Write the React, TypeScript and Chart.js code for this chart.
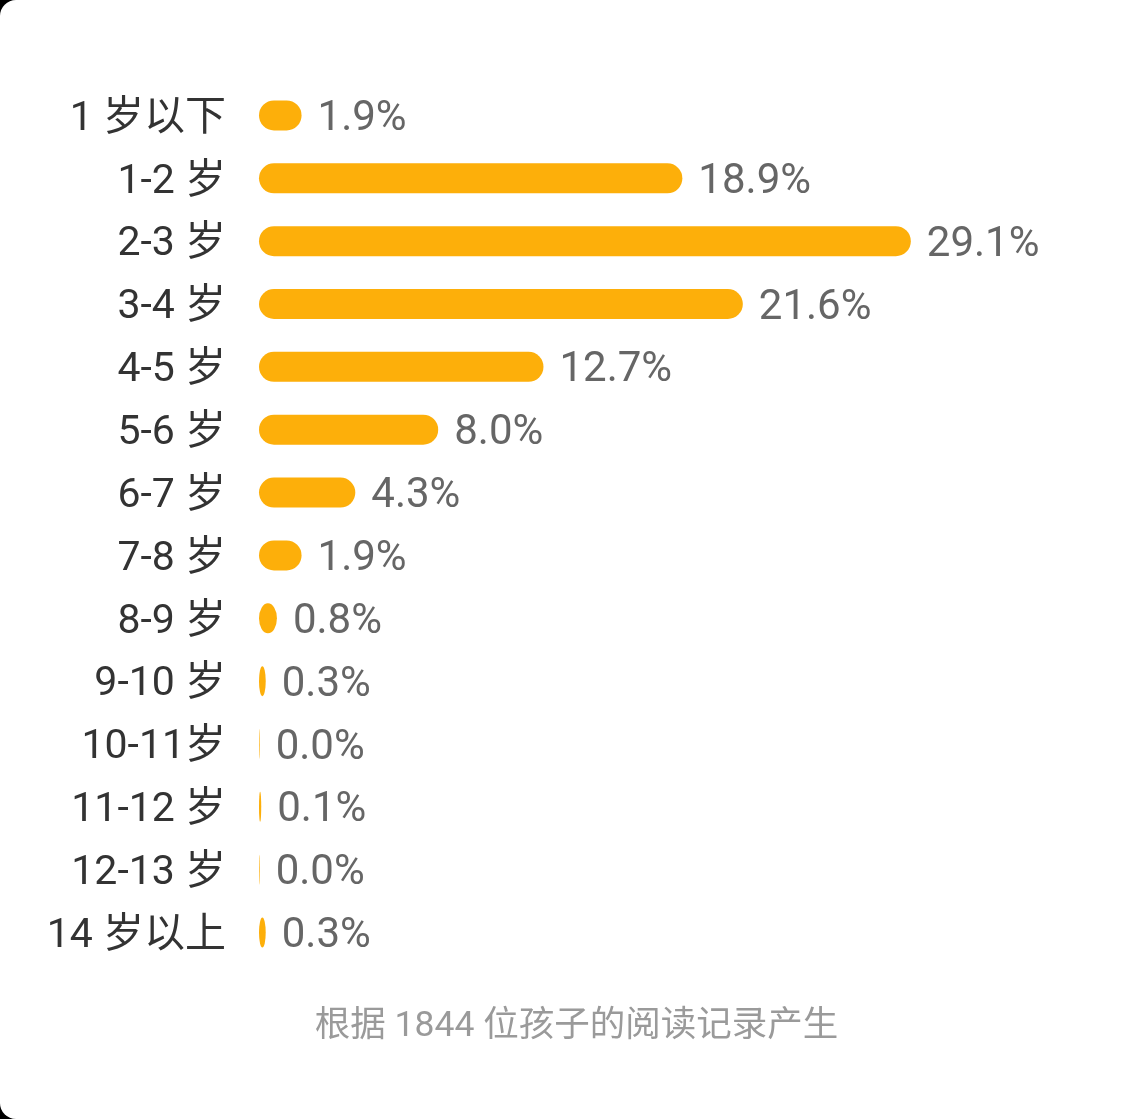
import React, { useEffect, useRef } from 'react';
import { Chart, registerables } from 'chart.js';

Chart.register(...registerables);

const categories = [
  '1 岁以下', '1-2 岁', '2-3 岁', '3-4 岁', '4-5 岁', '5-6 岁', '6-7 岁',
  '7-8 岁', '8-9 岁', '9-10 岁', '10-11岁', '11-12 岁', '12-13 岁', '14 岁以上',
];
const percentages = [1.9, 18.9, 29.1, 21.6, 12.7, 8.0, 4.3, 1.9, 0.8, 0.3, 0.03, 0.1, 0.03, 0.3];
const valueLabels = ['1.9%', '18.9%', '29.1%', '21.6%', '12.7%', '8.0%', '4.3%', '1.9%', '0.8%', '0.3%', '0.0%', '0.1%', '0.0%', '0.3%'];
const axisMax = 35;
const footnote = '根据 1844 位孩子的阅读记录产生';

const FONT = 'Roboto, "Noto Sans CJK SC", "Noto Sans", sans-serif';
const BAR_COLOR = '#FDAF0A';

// Draws each bar as a pill (or an ellipse when it is narrower than tall)
const pillBarsPlugin = {
  id: 'pillBars',
  beforeDatasetDraw(chart: any, args: any) {
    const ctx = chart.ctx;
    const meta = args.meta;
    ctx.save();
    ctx.fillStyle = BAR_COLOR;
    meta.data.forEach((el: any) => {
      const { x, y, base, height } = el.getProps(['x', 'y', 'base', 'height'], true);
      const left = Math.min(x, base);
      const w = Math.abs(x - base);
      const h = height;
      if (w <= 0) return;
      ctx.beginPath();
      if (w < h) {
        ctx.ellipse(left + w / 2, y, w / 2, h / 2, 0, 0, Math.PI * 2);
      } else {
        const r = h / 2;
        ctx.moveTo(left + r, y - r);
        ctx.lineTo(left + w - r, y - r);
        ctx.arc(left + w - r, y, r, -Math.PI / 2, Math.PI / 2);
        ctx.lineTo(left + r, y + r);
        ctx.arc(left + r, y, r, Math.PI / 2, (Math.PI * 3) / 2);
      }
      ctx.closePath();
      ctx.fill();
    });
    ctx.restore();
    return false;
  },
};

const valueLabelPlugin = {
  id: 'valueLabels',
  afterDatasetsDraw(chart: any) {
    const ctx = chart.ctx;
    const meta = chart.getDatasetMeta(0);
    ctx.save();
    ctx.font = `400 42px ${FONT}`;
    ctx.fillStyle = '#666666';
    ctx.textAlign = 'left';
    ctx.textBaseline = 'middle';
    meta.data.forEach((el: any, i: number) => {
      ctx.fillText(valueLabels[i], el.x + 16, el.y + 4);
    });
    ctx.restore();
  },
};

export default function App() {
  const canvasRef = useRef<HTMLCanvasElement | null>(null);

  useEffect(() => {
    document.body.style.margin = '0';
    document.body.style.background = '#000';
    const canvas = canvasRef.current;
    if (!canvas) return;
    const chart = new Chart(canvas, {
      type: 'bar',
      data: {
        labels: categories,
        datasets: [
          {
            data: percentages,
            backgroundColor: BAR_COLOR,
            borderRadius: 15,
            borderSkipped: false,
            barThickness: 30,
          },
        ],
      },
      options: {
        indexAxis: 'y',
        responsive: false,
        animation: false,
        devicePixelRatio: 1,
        layout: { padding: { top: 84, bottom: 155, left: 0, right: 98 } },
        plugins: {
          legend: { display: false },
          tooltip: { enabled: false },
          title: { display: false },
        },
        scales: {
          x: {
            display: false,
            min: 0,
            max: axisMax,
          },
          y: {
            grid: { display: false, drawTicks: false },
            border: { display: false },
            ticks: {
              color: '#333333',
              font: { family: FONT, size: 41 },
              padding: 33,
              labelOffset: 4,
            },
            afterFit(scale: any) {
              scale.width = 259;
            },
          },
        },
      },
      plugins: [pillBarsPlugin, valueLabelPlugin],
    });
    return () => chart.destroy();
  }, []);

  return (
    <div
      style={{
        position: 'relative',
        width: 1141,
        height: 1119,
        background: '#fff',
        borderTopLeftRadius: 16,
        borderBottomLeftRadius: 16,
        overflow: 'hidden',
      }}
    >
      <canvas ref={canvasRef} width={1141} height={1119} style={{ display: 'block' }} />
      <div
        style={{
          position: 'absolute',
          left: 6,
          top: 1004,
          width: 1141,
          textAlign: 'center',
          fontFamily: FONT,
          fontSize: 35.5,
          lineHeight: '40px',
          color: '#9a9a9a',
        }}
      >
        {footnote}
      </div>
    </div>
  );
}
